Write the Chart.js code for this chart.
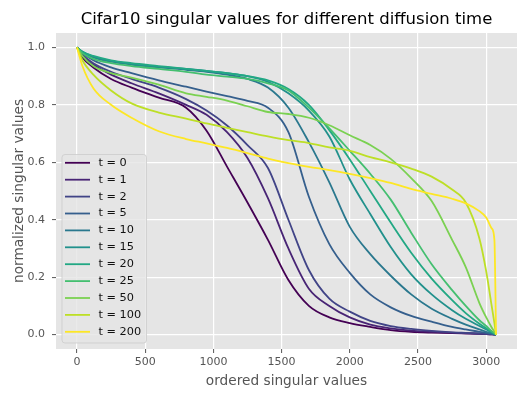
<!DOCTYPE html>
<html>
<head>
<meta charset="utf-8">
<script src="https://cdn.jsdelivr.net/npm/chart.js@4.4.0/dist/chart.umd.min.js"></script>
<style>
  html, body { margin: 0; padding: 0; background: #fff; }
</style>
</head>
<body>
<canvas id="svChart" width="531" height="399"></canvas>
<script>
  // rank of the singular value (0 .. 3072)
  const ranks = [0, 40, 120, 250, 400, 600, 800, 950, 1100, 1250, 1400, 1550, 1700, 1850,
                 2000, 2150, 2300, 2450, 2600, 2750, 2850, 2950, 3000, 3040, 3060, 3072];

  const times = [0, 1, 2, 5, 10, 15, 20, 25, 50, 100, 200];

  const sv_t0 = [1, 0.965, 0.93, 0.89, 0.86, 0.825, 0.79, 0.71, 0.585, 0.46, 0.33, 0.19, 0.1, 0.06,
                 0.04, 0.027, 0.016, 0.01, 0.007, 0.005, 0.004, 0.003, 0.002, 0.001, 0.0005, 0];
  const sv_t1 = [1, 0.97, 0.94, 0.905, 0.875, 0.84, 0.8, 0.765, 0.705, 0.615, 0.475, 0.3, 0.16, 0.1,
                 0.06, 0.035, 0.022, 0.014, 0.01, 0.007, 0.005, 0.003, 0.002, 0.001, 0.0005, 0];
  const sv_t2 = [1, 0.975, 0.945, 0.915, 0.89, 0.86, 0.82, 0.78, 0.728, 0.66, 0.58, 0.4, 0.225, 0.125,
                 0.08, 0.048, 0.03, 0.02, 0.013, 0.008, 0.006, 0.004, 0.003, 0.002, 0.001, 0];
  const sv_t5 = [1, 0.98, 0.955, 0.93, 0.91, 0.885, 0.863, 0.846, 0.83, 0.814, 0.79, 0.705, 0.48, 0.315,
                 0.215, 0.14, 0.095, 0.065, 0.045, 0.027, 0.018, 0.01, 0.006, 0.003, 0.001, 0];
  const sv_t10 = [1, 0.985, 0.965, 0.95, 0.94, 0.93, 0.922, 0.915, 0.905, 0.89, 0.86, 0.79, 0.67, 0.53,
                  0.375, 0.28, 0.205, 0.14, 0.09, 0.055, 0.035, 0.018, 0.01, 0.004, 0.002, 0];
  const sv_t15 = [1, 0.985, 0.968, 0.953, 0.942, 0.932, 0.925, 0.918, 0.91, 0.9, 0.88, 0.84, 0.78, 0.69,
                  0.54, 0.42, 0.305, 0.21, 0.14, 0.085, 0.055, 0.03, 0.018, 0.008, 0.003, 0];
  const sv_t20 = [1, 0.985, 0.97, 0.955, 0.945, 0.935, 0.925, 0.918, 0.91, 0.9, 0.885, 0.855, 0.8, 0.712,
                  0.61, 0.5, 0.39, 0.285, 0.195, 0.12, 0.075, 0.038, 0.022, 0.01, 0.004, 0];
  const sv_t25 = [1, 0.98, 0.96, 0.945, 0.935, 0.925, 0.915, 0.905, 0.898, 0.89, 0.875, 0.85, 0.79, 0.718,
                  0.64, 0.56, 0.47, 0.355, 0.245, 0.155, 0.1, 0.05, 0.03, 0.012, 0.005, 0];
  const sv_t50 = [1, 0.97, 0.935, 0.91, 0.895, 0.87, 0.84, 0.828, 0.815, 0.795, 0.775, 0.768, 0.755, 0.729,
                  0.694, 0.66, 0.612, 0.545, 0.465, 0.33, 0.235, 0.11, 0.06, 0.025, 0.01, 0];
  const sv_t100 = [1, 0.955, 0.905, 0.85, 0.805, 0.773, 0.752, 0.735, 0.72, 0.705, 0.69, 0.677, 0.667, 0.652,
                   0.64, 0.618, 0.6, 0.578, 0.55, 0.505, 0.46, 0.335, 0.22, 0.1, 0.04, 0];
  const sv_t200 = [1, 0.935, 0.858, 0.8, 0.755, 0.708, 0.681, 0.666, 0.65, 0.632, 0.613, 0.597, 0.584, 0.573,
                   0.56, 0.545, 0.528, 0.507, 0.49, 0.473, 0.457, 0.43, 0.408, 0.37, 0.33, 0];

  const xTicks = [0, 500, 1000, 1500, 2000, 2500, 3000];
  const yTicks = [0, 0.2, 0.4, 0.6, 0.8, 1.0];

  const allSeries = [sv_t0, sv_t1, sv_t2, sv_t5, sv_t10, sv_t15, sv_t20, sv_t25, sv_t50, sv_t100, sv_t200];
  // viridis, one colour per diffusion time
  const colors = ['#440154', '#482475', '#414487', '#355f8d', '#2a788e', '#21918c',
                  '#22a884', '#44bf70', '#7ad151', '#bddf26', '#fde725'];

  const FONT = '"DejaVu Sans", sans-serif';

  const datasets = allSeries.map((vals, i) => ({
    label: 't = ' + times[i],
    data: vals.map((v, j) => ({ x: ranks[j], y: v })),
    borderColor: colors[i],
    borderWidth: 1.8,
    pointRadius: 0,
    fill: false,
    cubicInterpolationMode: 'monotone',
    order: allSeries.length - i
  }));

  // grey panel behind the axes
  const panelBg = {
    id: 'panelBg',
    beforeDraw(chart) {
      const { ctx, chartArea: a } = chart;
      ctx.save();
      ctx.fillStyle = '#fff';
      ctx.fillRect(0, 0, chart.width, chart.height);
      ctx.fillStyle = '#E5E5E5';
      ctx.fillRect(a.left, a.top, a.right - a.left, a.bottom - a.top);
      ctx.restore();
    }
  };

  // title centred over the axes, not the canvas
  const axesTitle = {
    id: 'axesTitle',
    afterDraw(chart) {
      const { ctx, chartArea: a } = chart;
      ctx.save();
      ctx.font = '16.5px ' + FONT;
      ctx.fillStyle = '#000';
      ctx.textAlign = 'center';
      ctx.textBaseline = 'middle';
      ctx.fillText('Cifar10 singular values for different diffusion time', (a.left + a.right) / 2, 19.5);
      ctx.restore();
    }
  };

  // matplotlib-like legend in the lower left corner of the axes
  const innerLegend = {
    id: 'innerLegend',
    afterDatasetsDraw(chart) {
      const { ctx, chartArea: a } = chart;
      const ds = chart.data.datasets;
      const rowH = 16.9;
      const w = 84.5, h = 188.5;
      const x0 = a.left + 6, y0 = a.bottom - 6 - h;
      ctx.save();
      ctx.beginPath();
      ctx.roundRect(x0, y0, w, h, 3);
      ctx.fillStyle = 'rgba(229,229,229,0.8)';
      ctx.fill();
      ctx.strokeStyle = 'rgba(204,204,204,0.8)';
      ctx.lineWidth = 1;
      ctx.stroke();
      ctx.font = '11.3px ' + FONT;
      ctx.textBaseline = 'middle';
      ds.forEach((d, i) => {
        const cy = y0 + 8.3 + i * rowH;
        ctx.beginPath();
        ctx.moveTo(x0 + 3, cy);
        ctx.lineTo(x0 + 28, cy);
        ctx.strokeStyle = d.borderColor;
        ctx.lineWidth = 1.8;
        ctx.stroke();
        ctx.fillStyle = '#111';
        ctx.fillText(d.label, x0 + 36.5, cy);
      });
      ctx.restore();
    }
  };

  const ctx1 = document.getElementById('svChart').getContext('2d');
  const svChart = new Chart(ctx1, {
    type: 'line',
    data: { datasets: datasets },
    plugins: [panelBg, axesTitle, innerLegend],
    options: {
      responsive: false,
      animation: false,
      devicePixelRatio: 1,
      layout: { padding: { top: 33, right: 14, left: 0, bottom: 0 } },
      plugins: {
        legend: { display: false },
        tooltip: { enabled: false },
        title: { display: false }
      },
      scales: {
        x: {
          type: 'linear',
          min: -153.6,
          max: 3225.6,
          afterBuildTicks: s => { s.ticks = xTicks.map(v => ({ value: v })); },
          afterFit: s => { s.height = 50; },
          border: { display: false },
          grid: { color: '#fff', lineWidth: 1.2, tickColor: '#555', tickLength: 4, tickWidth: 1 },
          ticks: { color: '#555', font: { family: FONT, size: 11 }, padding: 3, maxRotation: 0,
                   callback: v => String(v) },
          title: { display: true, text: 'ordered singular values', color: '#555',
                   font: { family: FONT, size: 13.7 }, padding: { top: 0, bottom: 9.8 } }
        },
        y: {
          type: 'linear',
          min: -0.05,
          max: 1.05,
          afterBuildTicks: s => { s.ticks = yTicks.map(v => ({ value: v })); },
          afterFit: s => { s.width = 56; },
          border: { display: false },
          grid: { color: '#fff', lineWidth: 1.2, tickColor: '#555', tickLength: 4, tickWidth: 1 },
          ticks: { color: '#555', font: { family: FONT, size: 11 }, padding: 7,
                   callback: v => v.toFixed(1) },
          title: { display: true, text: 'normalized singular values', color: '#555',
                   font: { family: FONT, size: 13.7 }, padding: { top: 11.3, bottom: 0 } }
        }
      }
    }
  });
</script>
</body>
</html>
